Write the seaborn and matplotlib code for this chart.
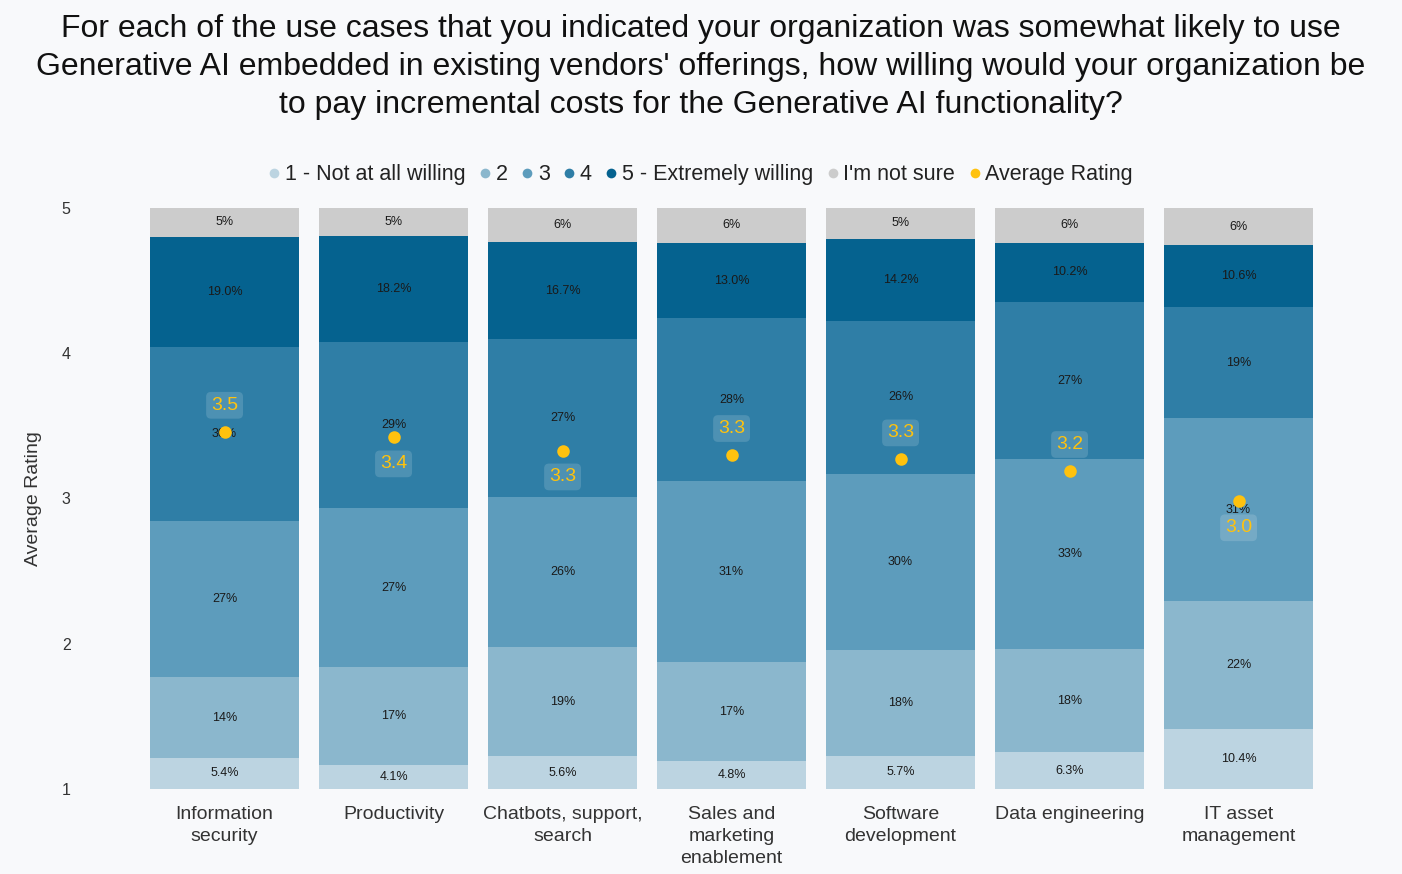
import numpy as np
import pandas as pd
import matplotlib
matplotlib.use("Agg")
import matplotlib.pyplot as plt
from matplotlib.lines import Line2D
import seaborn as sns

# chart data (percent of respondents per answer, bottom to top)
categories = ["Information security", "Productivity", "Chatbots, support, search",
              "Sales and marketing enablement", "Software development",
              "Data engineering", "IT asset management"]
tick_labels = ["Information\nsecurity", "Productivity", "Chatbots, support,\nsearch",
               "Sales and\nmarketing\nenablement", "Software\ndevelopment",
               "Data engineering", "IT asset\nmanagement"]
pct_1 = [5.4, 4.1, 5.6, 4.8, 5.7, 6.3, 10.4]
pct_2 = [13.8, 16.9, 18.8, 17.0, 18.2, 17.8, 22.0]
pct_3 = [26.9, 27.3, 25.8, 31.2, 30.4, 32.7, 31.4]
pct_4 = [29.9, 28.6, 27.2, 28.0, 26.2, 27.0, 19.2]
pct_5 = [19.0, 18.2, 16.7, 13.0, 14.2, 10.2, 10.6]
pct_unsure = [5.2, 4.9, 5.9, 6.0, 5.3, 6.0, 6.4]
avg_rating = [3.46, 3.42, 3.33, 3.30, 3.27, 3.19, 2.98]
# where the rating label sits relative to its dot (+ above, - below)
avg_label_side = [1, -1, -1, 1, 1, 1, -1]

levels = ["1 - Not at all willing", "2", "3", "4", "5 - Extremely willing", "I'm not sure"]
level_colors = ["#BCD4E1", "#8BB7CD", "#5D9CBC", "#2F7EA6", "#05628F", "#CCCCCC"]
avg_color = "#FFC20E"

df = pd.DataFrame({"category": categories, levels[0]: pct_1, levels[1]: pct_2,
                   levels[2]: pct_3, levels[3]: pct_4, levels[4]: pct_5,
                   levels[5]: pct_unsure})
cum = df[levels].cumsum(axis=1)

sns.set_theme(style="white")
plt.rcParams["font.family"] = ["Liberation Sans", "DejaVu Sans"]

bg = "#F8F9FB"
fig = plt.figure(figsize=(14.02, 8.74), dpi=100, facecolor=bg)
ax = fig.add_axes([0.0999, 0.0973, 0.8438, 0.6647])
ax.set_facecolor(bg)

# stacked bars: draw cumulative totals from the top down, each covering the rest
for lvl, col in reversed(list(zip(levels, level_colors))):
    sns.barplot(x=df["category"], y=cum[lvl], color=col, width=0.88,
                saturation=1, edgecolor="none", ax=ax)

# segment labels
for i in range(len(categories)):
    base = 0
    for j, lvl in enumerate(levels):
        v = df[lvl][i]
        fmt = "{:.1f}%" if j in (0, 4) else "{:.0f}%"
        ax.text(i, base + v / 2, fmt.format(v), ha="center", va="center",
                fontsize=9, color="#1a1a1a")
        base += v

ax.set_ylim(0, 100)
ax.set_yticks([])
ax.set_ylabel("")
ax.set_xlabel("")
ax.set_xticks(range(len(categories)))
ax.set_xticklabels(tick_labels, fontsize=14, color="#333333", linespacing=1.4)
ax.tick_params(axis="x", length=0, pad=12)
for s in ax.spines.values():
    s.set_visible(False)

# average rating on the secondary scale
ax_r = ax.twinx()
sns.pointplot(x=df["category"], y=avg_rating, color=avg_color, linestyle="none",
              markers="o", markersize=7, errorbar=None, ax=ax_r)
ax_r.set_xlim(-0.5, len(categories) - 0.5)
ax_r.set_ylim(1, 5)
ax_r.yaxis.tick_left()
ax_r.yaxis.set_label_position("left")
ax_r.set_yticks([1, 2, 3, 4, 5])
ax_r.tick_params(axis="y", length=0, pad=50, labelsize=11.5, labelcolor="#333333")
ax_r.set_ylabel("Average Rating", fontsize=14, color="#333333", labelpad=14)
ax_r.set_xlabel("")
for s in ax_r.spines.values():
    s.set_visible(False)

for i, (v, side) in enumerate(zip(avg_rating, avg_label_side)):
    ax_r.annotate(f"{v:.1f}", (i, v), xytext=(0, 19 * side), textcoords="offset points",
                  ha="center", va="center", fontsize=14, color=avg_color,
                  bbox=dict(boxstyle="round,pad=0.25", fc="white", alpha=0.15, ec="none"))

# legend
handles = [Line2D([], [], marker="o", linestyle="none", markersize=7,
                  markerfacecolor=c, markeredgecolor="none") for c in level_colors]
handles.append(Line2D([], [], marker="o", linestyle="none", markersize=7,
                      markerfacecolor=avg_color, markeredgecolor="none"))
fig.legend(handles, levels + ["Average Rating"], loc="center", bbox_to_anchor=(0.498, 0.8),
           ncol=7, frameon=False, fontsize=15.5, handletextpad=0.0, columnspacing=0.4,
           handlelength=1.0, labelcolor="#222222")

fig.text(0.5, 0.984,
         "For each of the use cases that you indicated your organization was somewhat likely to use\n"
         "Generative AI embedded in existing vendors' offerings, how willing would your organization be\n"
         "to pay incremental costs for the Generative AI functionality?",
         ha="center", va="top", fontsize=23, color="#111111", linespacing=1.35)

fig.savefig("out.png", dpi=100, facecolor=bg)
